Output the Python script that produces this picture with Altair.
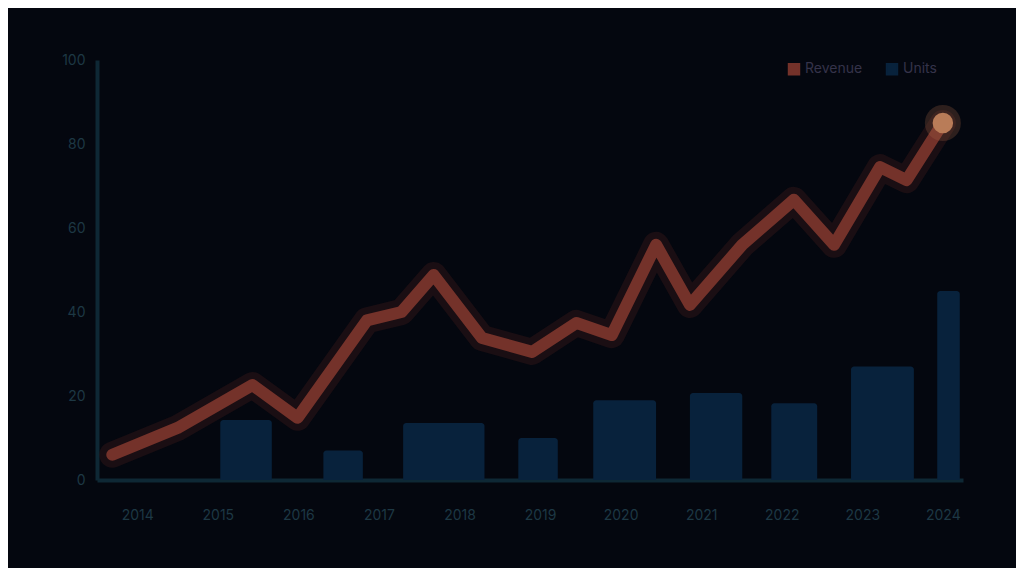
import altair as alt
import pandas as pd

# ---- data ----
x_labels = ["2014", "2015", "2016", "2017", "2018", "2019", "2020", "2021", "2022", "2023", "2024"]
y_ticks = [0, 20, 40, 60, 80, 100]

line_x = [-0.31, 0.50, 1.43, 1.99, 2.85, 3.28, 3.68, 4.28, 4.90, 5.45, 5.89,
          6.44, 6.86, 7.51, 8.15, 8.65, 9.22, 9.55, 10.0]
line_v = [6, 12.4, 22.6, 14.8, 38, 40, 48.8, 33.8, 30.5, 37.4, 34.5,
          56, 41.7, 56, 66.7, 56, 74.5, 71.4, 85]

bar_start = [1.03, 2.31, 3.30, 4.73, 5.66, 6.86, 7.87, 8.86, 9.93]
bar_end = [1.67, 2.80, 4.31, 5.22, 6.44, 7.51, 8.44, 9.64, 10.21]
bar_v = [14.3, 7, 13.6, 10, 19, 20.7, 18.3, 27, 45]

series = ["Revenue", "Units"]
colors = ["#74322a", "#08223c"]

line_df = pd.DataFrame({"x": line_x, "v": line_v})
bar_df = pd.DataFrame({"x0": bar_start, "x1": bar_end, "v": bar_v})
end_df = line_df.tail(1)

label_list = "[" + ",".join("'%s'" % s for s in x_labels) + "]"

xscale = alt.Scale(domain=[-0.5, 10.25], nice=False, zero=False)
yscale = alt.Scale(domain=[0, 100], nice=False)
cscale = alt.Scale(domain=series, range=colors)

xaxis = alt.Axis(values=list(range(len(x_labels))), labelExpr=label_list + "[datum.value]",
                 title=None, grid=False, ticks=False, domainColor="#0e2835", domainWidth=4,
                 labelColor="#1d3844", labelFontSize=14, labelPadding=28, labelFont="Inter")
yaxis = alt.Axis(values=y_ticks, title=None, grid=False, ticks=False, domainColor="#0e2835",
                 domainWidth=4, labelColor="#1d3844", labelFontSize=14, labelPadding=12,
                 labelFont="Inter")

bars = alt.Chart(bar_df).mark_bar(cornerRadiusTopLeft=3, cornerRadiusTopRight=3).encode(
    x=alt.X("x0:Q", scale=xscale, axis=xaxis),
    x2="x1:Q",
    y=alt.Y("v:Q", scale=yscale, axis=yaxis),
    y2=alt.datum(0),
    color=alt.Color("s:N", scale=cscale,
                    legend=alt.Legend(title=None, orient="none", legendX=690, legendY=2,
                                      direction="horizontal", labelColor="#35334a",
                                      labelFontSize=14, symbolType="square", symbolSize=120,
                                      columnPadding=20, labelFont="Inter")),
).transform_calculate(s="'Units'")

glow = alt.Chart(line_df).mark_line(strokeWidth=26, opacity=0.4, color="#3c1a1a",
                                    strokeJoin="round", strokeCap="round").encode(
    x=alt.X("x:Q", scale=xscale), y=alt.Y("v:Q", scale=yscale))

line = alt.Chart(line_df).mark_line(strokeWidth=12, strokeJoin="round", strokeCap="round").encode(
    x=alt.X("x:Q", scale=xscale), y=alt.Y("v:Q", scale=yscale),
    color=alt.Color("s:N", scale=cscale),
).transform_calculate(s="'Revenue'")

halo = alt.Chart(end_df).mark_circle(size=1300, opacity=0.25, color="#a86848").encode(
    x=alt.X("x:Q", scale=xscale), y=alt.Y("v:Q", scale=yscale))
endpt = alt.Chart(end_df).mark_circle(size=420, opacity=1, color="#b97c58").encode(
    x=alt.X("x:Q", scale=xscale), y=alt.Y("v:Q", scale=yscale))

chart = alt.layer(bars, glow, line, halo, endpt).properties(
    width=866, height=420,
    background="#04070f",
    autosize=alt.AutoSizeParams(type="none"),
    padding={"left": 89, "top": 52, "right": 53, "bottom": 88},
).configure_view(stroke=None)

chart.save("out.html", embed_options={"renderer": "svg", "actions": False})
